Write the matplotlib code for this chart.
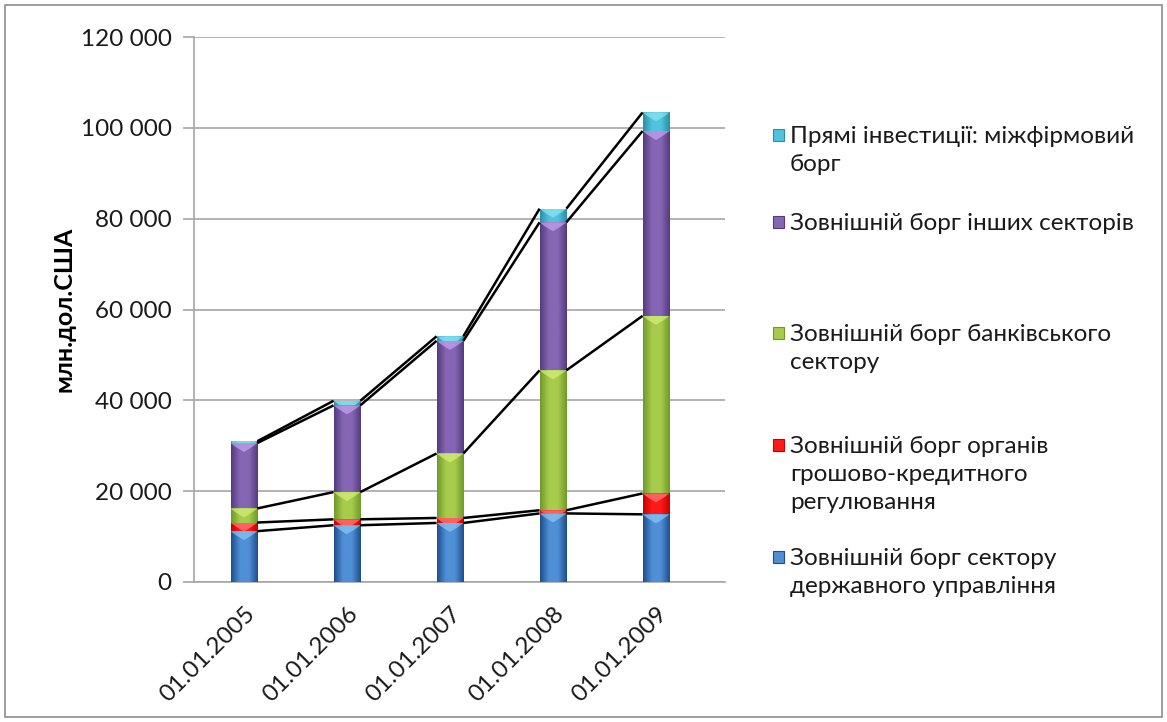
import numpy as np
import matplotlib
matplotlib.use("Agg")
import matplotlib.pyplot as plt
from matplotlib.patches import Rectangle, Polygon
from matplotlib.colors import LinearSegmentedColormap

plt.rcParams['font.family'] = ['Lato', 'Open Sans', 'DejaVu Sans']

# External debt structure, mln USD
dates = ["01.01.2005", "01.01.2006", "01.01.2007", "01.01.2008", "01.01.2009"]
gov_sector = [11200, 12500, 13000, 15100, 14900]
monetary_auth = [1900, 1300, 1100, 700, 4600]
bank_sector = [3100, 6000, 14200, 30800, 39100]
other_sectors = [14400, 19100, 24800, 32600, 40700]
intercompany = [400, 1000, 1000, 3000, 4100]

series_names = [
    "Зовнішній борг сектору\nдержавного управління",
    "Зовнішній борг органів\nгрошово-кредитного\nрегулювання",
    "Зовнішній борг банківського\nсектору",
    "Зовнішній борг інших секторів",
    "Прямі інвестиції: міжфірмовий\nборг",
]
series_values = [gov_sector, monetary_auth, bank_sector, other_sectors, intercompany]
# (dark edge, light centre, bevel highlight)
series_colors = [
    ("#1f4e8c", "#4f8fd6", "#8cc8f5"),
    ("#c80000", "#ff1a1a", "#ff8080"),
    ("#6f9a2a", "#a7cc4c", "#d6f07a"),
    ("#553a80", "#8566b4", "#c9a6f0"),
    ("#2a8fa8", "#4fc3dd", "#8fe6f5"),
]

W, H = 1167, 722
fig = plt.figure(figsize=(W / 100, H / 100), dpi=100)
ax = fig.add_axes([194 / W, (H - 582) / H, 531 / W, 545 / H])

x = np.arange(len(dates))
bar_w = 0.26
ax.set_xlim(-0.485, 4.67)
ax.set_ylim(0, 120000)

px_per_unit_y = 545 / 120000.0


def shaded_bar(xc, y0, h, cols):
    dark, light, hi = cols
    left, right = xc - bar_w / 2, xc + bar_w / 2
    rect = Rectangle((left, y0), bar_w, h, facecolor=light, edgecolor="none", zorder=2)
    ax.add_patch(rect)
    cmap = LinearSegmentedColormap.from_list("g", [dark, light, light, dark])
    grad = np.linspace(0, 1, 64).reshape(1, -1)
    im = ax.imshow(grad, cmap=cmap, extent=(left, right, y0, y0 + h),
                   aspect="auto", zorder=3, interpolation="bilinear")
    im.set_clip_path(rect)
    # bevel highlight at the segment top
    depth = 9 / px_per_unit_y
    tri = Polygon([(left, y0 + h), (right, y0 + h), (right - bar_w * 0.2, y0 + h - depth * 0.45),
                   (xc, y0 + h - depth), (left + bar_w * 0.2, y0 + h - depth * 0.45)],
                  closed=True, facecolor=hi, edgecolor="none", alpha=0.7, zorder=4)
    ax.add_patch(tri)
    tri.set_clip_path(rect)


bottom = np.zeros(len(dates))
tops = []
for vals, cols in zip(series_values, series_colors):
    vals = np.array(vals, dtype=float)
    for i in range(len(dates)):
        shaded_bar(x[i], bottom[i], vals[i], cols)
    bottom = bottom + vals
    tops.append(bottom.copy())

# series lines between neighbouring stacks
for level in tops:
    for i in range(len(dates) - 1):
        ax.plot([x[i] + bar_w / 2, x[i + 1] - bar_w / 2], [level[i], level[i + 1]],
                color="black", lw=1.8, zorder=5, solid_capstyle="butt")

ax.set_yticks(np.arange(0, 120001, 20000))
ax.set_yticklabels([f"{v:,}".replace(",", " ") for v in range(0, 120001, 20000)])
ax.yaxis.grid(True, color="#a6a6a6", lw=1.2)
ax.set_axisbelow(True)
ax.set_xticks(x)
ax.set_xticklabels(dates, rotation=45, ha="right", rotation_mode="anchor")
ax.tick_params(axis="x", length=0, pad=15, labelsize=17.5, labelcolor="#1a1a1a")
ax.tick_params(axis="y", length=8, width=1.2, color="#a6a6a6", pad=8, labelsize=17.5,
               labelcolor="#1a1a1a")
for side in ("top", "right"):
    ax.spines[side].set_visible(False)
for side in ("left", "bottom"):
    ax.spines[side].set_color("#a6a6a6")
    ax.spines[side].set_linewidth(1.2)
ax.set_ylabel("млн.дол.США", fontsize=18, fontweight="bold", labelpad=4)

# legend, top series first
legend_y = [135, 222, 333, 445, 557]
for name, cols, ly in zip(series_names[::-1], series_colors[::-1], legend_y):
    sq = Rectangle((773 / W, 1 - (ly + 6) / H), 11 / W, 12 / H, transform=fig.transFigure,
                   facecolor=cols[1], edgecolor=cols[0], lw=0.8)
    fig.add_artist(sq)
    fig.text(790 / W, 1 - (ly - 9) / H, name, fontsize=17.5, va="top", ha="left",
             linespacing=1.42, color="#1a1a1a")

fig.add_artist(Rectangle((5 / W, 5 / H), (W - 10) / W, (H - 10) / H, transform=fig.transFigure,
                         facecolor="none", edgecolor="#8c8c8c", lw=1.2))

fig.savefig("out.png", dpi=100)
